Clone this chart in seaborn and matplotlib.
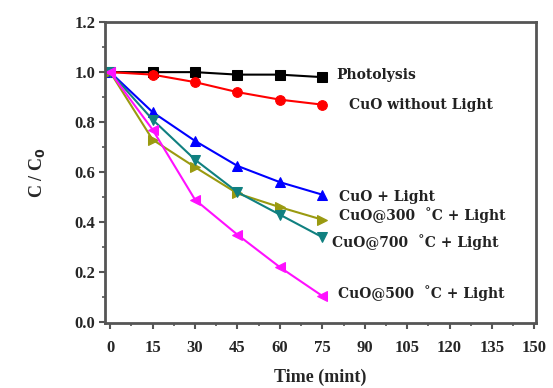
import pandas as pd
import matplotlib.pyplot as plt
import seaborn as sns
from matplotlib.ticker import MultipleLocator

# time points (min)
time = [0, 15, 30, 45, 60, 75]

photolysis = [1.0, 1.0, 1.0, 0.99, 0.99, 0.98]
cuo_dark = [1.0, 0.99, 0.96, 0.92, 0.89, 0.87]
cuo_light = [1.0, 0.84, 0.725, 0.625, 0.56, 0.51]
cuo300 = [1.0, 0.73, 0.62, 0.515, 0.46, 0.41]
cuo700 = [1.0, 0.81, 0.65, 0.52, 0.43, 0.34]
cuo500 = [1.0, 0.77, 0.49, 0.35, 0.22, 0.105]

labels = ['Photolysis', 'CuO without Light', 'CuO + Light',
          'CuO@300  \u02daC + Light', 'CuO@700  \u02daC + Light',
          'CuO@500  \u02daC + Light']
series = [photolysis, cuo_dark, cuo_light, cuo300, cuo700, cuo500]
colors = ['black', 'red', 'blue', '#9a9a10', '#108080', '#ff10ff']
markers = ['s', 'o', '^', '>', 'v', '<']
# label anchor (x, y) in data coords
label_pos = [(80, 0.99), (84.5, 0.87), (81, 0.50), (81, 0.43), (78.5, 0.32), (80.5, 0.115)]

sns.set_theme(style='ticks')
plt.rcParams['font.family'] = ['Liberation Serif', 'DejaVu Serif']
plt.rcParams['font.weight'] = 'bold'

fig = plt.figure(figsize=(5.53, 3.88), dpi=100)
ax = fig.add_axes([0.19, 0.167, 0.779, 0.776])

for lab, vals, c, m in zip(labels, series, colors, markers):
    df = pd.DataFrame({'t': time, 'c': vals})
    sns.lineplot(data=df, x='t', y='c', ax=ax, color=c, marker=m,
                 markersize=7, markeredgecolor=c, linewidth=1.5)

for lab, (x, y) in zip(labels, label_pos):
    ax.text(x, y, lab, fontsize=10, fontweight='bold', va='center', ha='left',
            color='#222222', family='DejaVu Serif')

ax.set_xlim(-1.8, 150.5)
ax.set_ylim(-0.004, 1.2)
ax.xaxis.set_major_locator(MultipleLocator(15))
ax.xaxis.set_minor_locator(MultipleLocator(7.5))
ax.yaxis.set_major_locator(MultipleLocator(0.2))
ax.yaxis.set_minor_locator(MultipleLocator(0.1))
ax.yaxis.set_major_formatter(plt.FormatStrFormatter('%.1f'))

for s in ax.spines.values():
    s.set_color('#555555')
    s.set_linewidth(2)
ax.tick_params(which='major', length=4, width=1.5, color='#555555',
               labelsize=12, pad=3)
ax.tick_params(axis='x', which='major', pad=8)
ax.tick_params(which='minor', length=2.5, width=1.2, color='#555555')
for t in ax.get_xticklabels() + ax.get_yticklabels():
    t.set_fontweight('bold')

ax.set_xlabel('Time (mint)', fontsize=13, fontweight='bold', labelpad=9)
ax.set_ylabel('C / C$_\\mathbf{0}$', fontsize=13, fontweight='bold', labelpad=20)

fig.savefig('out.png', dpi=100)
